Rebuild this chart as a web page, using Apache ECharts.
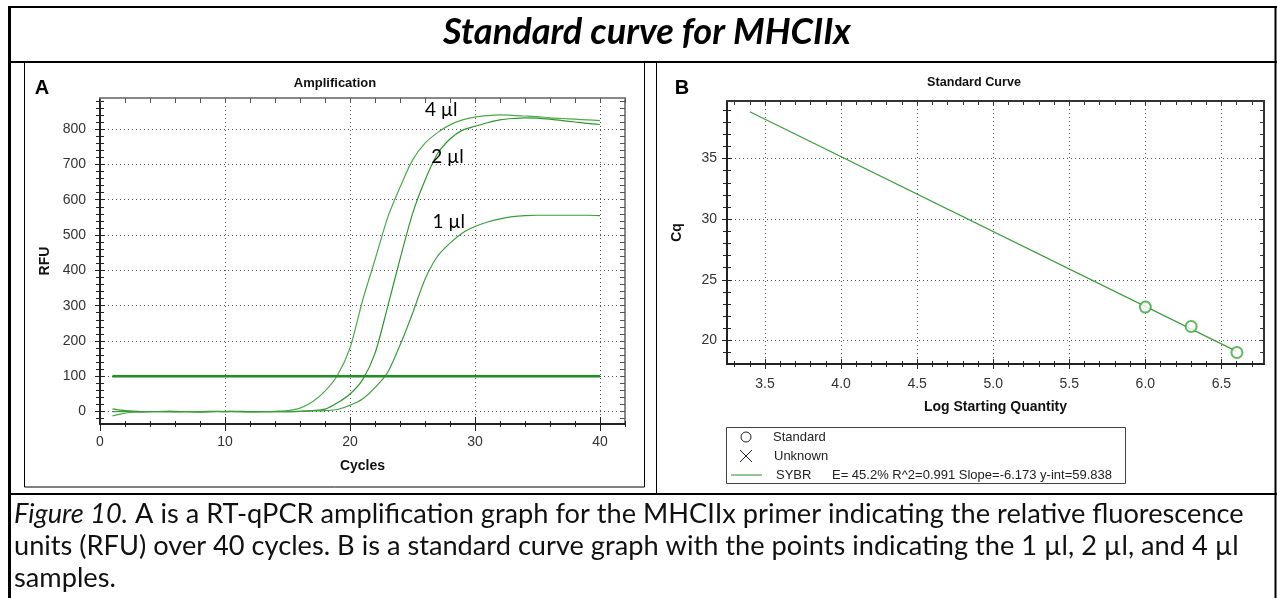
<!DOCTYPE html>
<html><head><meta charset="utf-8">
<script src="https://cdn.jsdelivr.net/npm/echarts@6/dist/echarts.min.js"></script>
<style>html,body{margin:0;padding:0;background:#fff}#c{width:1277px;height:598px}</style>
</head><body><div id="c"></div>
<script>
// ---------- DATA ----------
const cycles = [1,2,3,4,5,6,7,8,9,10,11,12,13,14,15,16,17,18,19,20,21,22,23,24,25,26,27,28,29,30,31,32,33,34,35,36,37,38,39,40];
const rfu4ul = [-12,-4,-1,0,1,0,0,-1,0,1,0,0,0,1,3,10,28,58,103,180,314,430,548,635,712,760,790,812,826,834,838,840,839,837,835,832,830,828,826,824];
const rfu2ul = [8,3,1,0,0,1,0,-1,0,0,1,0,0,0,0,1,3,7,25,50,90,165,295,432,560,655,730,772,797,808,818,826,830,832,831,828,824,820,816,813];
const rfu1ul = [0,1,-1,0,0,-1,0,0,1,0,0,-1,0,0,0,1,2,3,6,18,36,68,110,188,278,375,440,477,506,524,537,546,552,555,556,556,556,556,556,555];
const thresholdRFU = 100;
const thresholdCycles = [1, 40];
const curveLabels = ['4 µl', '2 µl', '1 µl'];
const curveLabelPos = [[27.3, 853], [27.8, 722], [27.9, 538]];
const ampXTicks = [0, 10, 20, 30, 40];
const ampYTicks = [0, 100, 200, 300, 400, 500, 600, 700, 800];

const logQty = [6.0, 6.301, 6.602];
const cqValues = [22.75, 21.15, 19.01];
const fitLineX = [3.40, 6.60];
const fitLineY = [38.85, 19.10];
const stdXTicks = [3.5, 4.0, 4.5, 5.0, 5.5, 6.0, 6.5];
const stdYTicks = [20, 25, 30, 35];
const legendNames = ['Standard', 'Unknown', 'SYBR'];
const fitText = 'E= 45.2% R^2=0.991 Slope=-6.173 y-int=59.838';

const titleText = 'Standard curve for MHCIIx';
const captionItalic = 'Figure 10.';
const captionLines = [
  ' A is a RT-qPCR amplification graph for the MHCIIx primer indicating the relative fluorescence',
  'units (RFU) over 40 cycles. B is a standard curve graph with the points indicating the 1 µl, 2 µl, and 4 µl',
  'samples.'
];

// ---------- helpers ----------
function range(a, b, step) { const out = []; const n = Math.round((b - a) / step); for (let i = 0; i <= n; i++) out.push(+(a + i * step).toFixed(4)); return out; }
function measure(text, font) { const c = document.createElement('canvas').getContext('2d'); c.font = font; return c.measureText(text).width; }
function fitSize(text, style, family, target) { const w = measure(text, style + ' 100px ' + family); return 100 * target / w; }

const SANS = '"Liberation Sans", Arial, sans-serif';
const CAL = 'Lato, "Open Sans", sans-serif';
const dotted = { color: '#555', width: 1, type: [1, 3] };
const TICKFS = 14, NAMEFS = 14;

function baseAxis(gridIndex, position, min, max) {
  return { type: 'value', gridIndex, position, min, max,
    axisLine: { show: false, onZero: false }, axisLabel: { show: false }, splitLine: { show: false }, axisTick: { show: false } };
}
function tickAxis(gridIndex, position, min, max, values, length, inside, color, lineShow, lineColor, lineWidth) {
  const a = baseAxis(gridIndex, position, min, max);
  a.axisTick = { show: true, customValues: values, length, inside, lineStyle: { color, width: 1 } };
  if (lineShow) a.axisLine = { show: true, onZero: false, lineStyle: { color: lineColor, width: lineWidth } };
  return a;
}

// axis extents
const AX = [0, 42], AY = [-35, 888];
const BX = [3.25, 6.78], BY = [18.06, 39.74];
const ampXMinor = range(0, 42, 2), ampYMinor = range(-20, 880, 20);
const stdXMinor = range(3.3, 6.7, 0.1), stdYMinor = range(19, 39, 1);

const xAxes = [];
const yAxes = [];
xAxes.push(Object.assign(baseAxis(0, 'bottom', AX[0], AX[1]), {
  axisLine: { show: true, onZero: false, lineStyle: { color: '#222', width: 2 } },
  axisTick: { show: true, customValues: ampXTicks, length: 7, lineStyle: { color: '#222' } },
  axisLabel: { show: true, customValues: ampXTicks, margin: 11, fontSize: TICKFS, color: '#333', fontFamily: SANS },
  splitLine: { show: true, lineStyle: dotted },
  name: 'Cycles', nameLocation: 'middle', nameGap: 35,
  nameTextStyle: { fontWeight: 'bold', fontSize: NAMEFS, color: '#111', fontFamily: SANS }
}));
xAxes.push(tickAxis(0, 'bottom', AX[0], AX[1], ampXTicks, 7, true, '#222'));
xAxes.push(tickAxis(0, 'bottom', AX[0], AX[1], ampXMinor, 3, true, '#222'));
xAxes.push(tickAxis(0, 'bottom', AX[0], AX[1], ampXMinor, 3, false, '#222'));
xAxes.push(tickAxis(0, 'top', AX[0], AX[1], ampXMinor, 5, true, '#555', true, '#888', 2));
xAxes.push(Object.assign(baseAxis(1, 'bottom', BX[0], BX[1]), {
  axisLine: { show: true, onZero: false, lineStyle: { color: '#222', width: 2 } },
  axisTick: { show: true, customValues: stdXTicks, length: 5, lineStyle: { color: '#222' } },
  axisLabel: { show: true, customValues: stdXTicks, margin: 13, fontSize: TICKFS, color: '#333', fontFamily: SANS, formatter: v => (+v).toFixed(1) },
  splitLine: { show: true, lineStyle: dotted },
  name: 'Log Starting Quantity', nameLocation: 'middle', nameGap: 36,
  nameTextStyle: { fontWeight: 'bold', fontSize: NAMEFS, color: '#111', fontFamily: SANS }
}));
xAxes.push(tickAxis(1, 'bottom', BX[0], BX[1], stdXTicks, 5, true, '#222'));
xAxes.push(tickAxis(1, 'bottom', BX[0], BX[1], stdXMinor, 3, true, '#222'));
xAxes.push(tickAxis(1, 'bottom', BX[0], BX[1], stdXMinor, 3, false, '#222'));
xAxes.push(tickAxis(1, 'top', BX[0], BX[1], stdXMinor, 4, true, '#333', true, '#333', 2));

yAxes.push(Object.assign(baseAxis(0, 'left', AY[0], AY[1]), {
  axisLine: { show: true, onZero: false, lineStyle: { color: '#222', width: 2 } },
  axisTick: { show: true, customValues: ampYTicks, length: 5, lineStyle: { color: '#222' } },
  axisLabel: { show: true, customValues: ampYTicks, margin: 14, fontSize: TICKFS, color: '#333', fontFamily: SANS },
  splitLine: { show: true, lineStyle: dotted },
  name: 'RFU', nameLocation: 'middle', nameGap: 48, nameRotate: 90,
  nameTextStyle: { fontWeight: 'bold', fontSize: NAMEFS, color: '#111', fontFamily: SANS }
}));
yAxes.push(tickAxis(0, 'left', AY[0], AY[1], ampYTicks, 5, true, '#222'));
yAxes.push(tickAxis(0, 'left', AY[0], AY[1], ampYMinor, 4, true, '#222'));
yAxes.push(tickAxis(0, 'left', AY[0], AY[1], ampYMinor, 4, false, '#222'));
yAxes.push(tickAxis(0, 'right', AY[0], AY[1], ampYMinor, 5, true, '#555', true, '#888', 2));
yAxes.push(Object.assign(baseAxis(1, 'left', BY[0], BY[1]), {
  axisLine: { show: true, onZero: false, lineStyle: { color: '#222', width: 2 } },
  axisTick: { show: true, customValues: stdYTicks, length: 5, lineStyle: { color: '#222' } },
  axisLabel: { show: true, customValues: stdYTicks, margin: 10, fontSize: TICKFS, color: '#333', fontFamily: SANS },
  splitLine: { show: true, lineStyle: dotted },
  name: 'Cq', nameLocation: 'middle', nameGap: 43, nameRotate: 90,
  nameTextStyle: { fontWeight: 'bold', fontSize: NAMEFS, color: '#111', fontFamily: SANS }
}));
yAxes.push(tickAxis(1, 'left', BY[0], BY[1], stdYTicks, 5, true, '#222'));
yAxes.push(tickAxis(1, 'left', BY[0], BY[1], stdYMinor, 4, true, '#222'));
yAxes.push(tickAxis(1, 'left', BY[0], BY[1], stdYMinor, 4, false, '#222'));
yAxes.push(tickAxis(1, 'right', BY[0], BY[1], stdYMinor, 4, true, '#333', true, '#333', 2));

function curve(vals, color) {
  return { type: 'line', xAxisIndex: 0, yAxisIndex: 0, data: cycles.map((c, i) => [c, vals[i]]),
    showSymbol: false, smooth: 0.25, lineStyle: { color, width: 1.2 }, silent: true, z: 3 };
}

const series = [
  curve(rfu4ul, '#4aab4a'), curve(rfu2ul, '#2f972f'), curve(rfu1ul, '#3a9f3a'),
  { type: 'line', xAxisIndex: 0, yAxisIndex: 0, data: thresholdCycles.map(c => [c, thresholdRFU]),
    showSymbol: false, lineStyle: { color: '#1f8f1f', width: 2.5 }, z: 4 },
  { type: 'scatter', xAxisIndex: 0, yAxisIndex: 0, symbolSize: 1, itemStyle: { opacity: 0 }, z: 6, silent: true,
    data: curveLabels.map((n, i) => ({ name: n, value: curveLabelPos[i] })),
    label: { show: true, position: 'inside', formatter: p => p.name, fontSize: 19, color: '#000', fontFamily: CAL, textBorderWidth: 0, opacity: 1 } },
  { type: 'line', xAxisIndex: 5, yAxisIndex: 5, data: fitLineX.map((x, i) => [x, fitLineY[i]]),
    showSymbol: false, lineStyle: { color: '#3a9f3a', width: 1.2 }, z: 3 },
  { type: 'scatter', xAxisIndex: 5, yAxisIndex: 5, symbol: 'emptyCircle', symbolSize: 11,
    data: logQty.map((x, i) => [x, cqValues[i]]),
    itemStyle: { color: '#3aa53a', borderColor: '#3aa53a', borderWidth: 1.3 }, z: 4 }
];

const titleSize = fitSize(titleText, 'italic bold', CAL, 408);
const capSize = fitSize(captionItalic + captionLines[0], 'normal', CAL, 1236);

const K = '#000';
const LEG = '13px ' + SANS;
const graphic = [
  { type: 'line', shape: { x1: 8, y1: 7, x2: 1277, y2: 7 }, style: { stroke: K, lineWidth: 2 } },
  { type: 'line', shape: { x1: 9.5, y1: 6, x2: 9.5, y2: 598 }, style: { stroke: K, lineWidth: 3 } },
  { type: 'line', shape: { x1: 1275.5, y1: 6, x2: 1275.5, y2: 598 }, style: { stroke: K, lineWidth: 2 } },
  { type: 'line', shape: { x1: 8, y1: 62, x2: 1277, y2: 62 }, style: { stroke: K, lineWidth: 2 } },
  { type: 'line', shape: { x1: 8, y1: 494, x2: 1277, y2: 494 }, style: { stroke: K, lineWidth: 2 } },
  { type: 'rect', shape: { x: 24.5, y: 62, width: 620, height: 425 }, style: { stroke: K, fill: null, lineWidth: 1 } },
  { type: 'line', shape: { x1: 656.5, y1: 62, x2: 656.5, y2: 494 }, style: { stroke: K, lineWidth: 1 } },
  { type: 'text', x: 647, y: 32, style: { text: titleText, font: 'italic bold ' + titleSize.toFixed(2) + 'px ' + CAL, fill: '#000', align: 'center', verticalAlign: 'middle' } },
  { type: 'text', x: 42, y: 88, style: { text: 'A', font: 'bold 20px ' + SANS, fill: '#000', align: 'center', verticalAlign: 'middle' } },
  { type: 'text', x: 682, y: 88, style: { text: 'B', font: 'bold 20px ' + SANS, fill: '#000', align: 'center', verticalAlign: 'middle' } },
  { type: 'text', x: 335, y: 83, style: { text: 'Amplification', font: 'bold 13px ' + SANS, fill: '#111', align: 'center', verticalAlign: 'middle' } },
  { type: 'text', x: 974, y: 83, style: { text: 'Standard Curve', font: 'bold 12.6px ' + SANS, fill: '#111', align: 'center', verticalAlign: 'middle' } },
  { type: 'rect', shape: { x: 726.5, y: 427.5, width: 399, height: 56 }, style: { stroke: '#444', fill: null, lineWidth: 1 } },
  { type: 'circle', shape: { cx: 746, cy: 437, r: 5 }, style: { stroke: '#222', fill: null, lineWidth: 1 } },
  { type: 'line', shape: { x1: 740, y1: 450, x2: 752, y2: 462 }, style: { stroke: '#222', lineWidth: 1 } },
  { type: 'line', shape: { x1: 740, y1: 462, x2: 752, y2: 450 }, style: { stroke: '#222', lineWidth: 1 } },
  { type: 'line', shape: { x1: 731, y1: 475, x2: 762, y2: 475 }, style: { stroke: '#2a8a2a', lineWidth: 1 } },
  { type: 'text', x: 773, y: 437, style: { text: legendNames[0], font: LEG, fill: '#222', align: 'left', verticalAlign: 'middle' } },
  { type: 'text', x: 774, y: 456, style: { text: legendNames[1], font: LEG, fill: '#222', align: 'left', verticalAlign: 'middle' } },
  { type: 'text', x: 776, y: 475, style: { text: legendNames[2], font: LEG, fill: '#222', align: 'left', verticalAlign: 'middle' } },
  { type: 'text', x: 832, y: 475, style: { text: fitText, font: LEG, fill: '#222', align: 'left', verticalAlign: 'middle' } },
  { type: 'text', x: 14, y: 514, style: { text: '{i|' + captionItalic + '}' + captionLines[0], font: capSize.toFixed(2) + 'px ' + CAL, fill: '#111', align: 'left', verticalAlign: 'middle',
      rich: { i: { fontStyle: 'italic', fontSize: capSize, fontFamily: CAL, fill: '#111' } } } },
  { type: 'text', x: 14, y: 546, style: { text: captionLines[1], font: capSize.toFixed(2) + 'px ' + CAL, fill: '#111', align: 'left', verticalAlign: 'middle' } },
  { type: 'text', x: 14, y: 578, style: { text: captionLines[2], font: capSize.toFixed(2) + 'px ' + CAL, fill: '#111', align: 'left', verticalAlign: 'middle' } }
];

const chart = echarts.init(document.getElementById('c'), null, { renderer: 'canvas', width: 1277, height: 598 });
chart.setOption({
  backgroundColor: '#fff',
  animation: false,
  grid: [
    { left: 100, top: 98, width: 525, height: 326 },
    { left: 727, top: 101, width: 537, height: 263 }
  ],
  xAxis: xAxes,
  yAxis: yAxes,
  series,
  graphic
});
</script></body></html>
